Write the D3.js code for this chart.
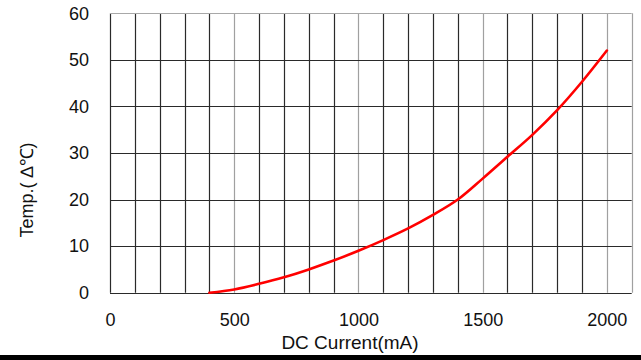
<!DOCTYPE html>
<html>
<head>
<meta charset="utf-8">
<script src="https://cdn.jsdelivr.net/npm/d3@7"></script>
<style>
  html, body { margin: 0; padding: 0; background: #fff; }
  svg { display: block; }
  text { font-family: "Liberation Sans", Arial, sans-serif; fill: #111; }
</style>
</head>
<body>
<svg id="chart" width="641" height="360"></svg>
<script>
// Temperature rise vs. DC drive current
const current = [400, 500, 600, 700, 800, 900, 1000, 1100, 1200, 1300, 1400, 1500, 1600, 1700, 1800, 1900, 2000];
const tempRise = [0, 0.7, 1.9, 3.3, 5.0, 6.9, 9.0, 11.3, 13.8, 16.7, 20.0, 24.5, 29.2, 33.9, 39.2, 45.3, 52.0];
const xTicks = [0, 500, 1000, 1500, 2000];
const yTicks = [0, 10, 20, 30, 40, 50, 60];
const xGrid = d3.range(0, 2101, 100);

const svg = d3.select("#chart");
const W = 641, H = 360;

const x = d3.scaleLinear().domain([0, 2100]).range([110, 631.7]);
const y = d3.scaleLinear().domain([0, 60]).range([292.7, 13.3]);

// vertical grid: every 500 mA is drawn lighter
const g = svg.append("g");
g.selectAll("line.v").data(xGrid).join("line")
  .attr("x1", d => Math.round(x(d)) + 0.5).attr("x2", d => Math.round(x(d)) + 0.5)
  .attr("y1", y(60)).attr("y2", y(0))
  .attr("stroke", d => (d > 0 && d % 500 === 0) || d === 2100 ? "#a0a0a0" : "#2a2a2a")
  .attr("stroke-width", 1.2);

// horizontal grid
g.selectAll("line.h").data(yTicks).join("line")
  .attr("x1", x(0)).attr("x2", x(2100))
  .attr("y1", d => Math.round(y(d)) + 0.5).attr("y2", d => Math.round(y(d)) + 0.5)
  .attr("stroke", d => d === 60 ? "#a8a8a8" : "#2a2a2a")
  .attr("stroke-width", 1.2);

// tick labels via d3 axes (domain and tick marks hidden)
const xAxis = svg.append("g")
  .attr("transform", `translate(0, ${y(0)})`)
  .call(d3.axisBottom(x).tickValues(xTicks).tickFormat(d3.format("d")).tickSize(0).tickPadding(21));
xAxis.select(".domain").remove();
xAxis.selectAll("text").style("font-size", "18px").attr("fill", "#111")
  .style("font-family", "'Liberation Sans', Arial, sans-serif");

const yAxis = svg.append("g")
  .attr("transform", `translate(${x(0)}, 0)`)
  .call(d3.axisLeft(y).tickValues(yTicks).tickFormat(d3.format("d")).tickSize(0).tickPadding(21));
yAxis.select(".domain").remove();
yAxis.selectAll("text").style("font-size", "18px").attr("fill", "#111")
  .style("font-family", "'Liberation Sans', Arial, sans-serif");

// curve
const line = d3.line()
  .x((d, i) => x(current[i]))
  .y(d => y(d))
  .curve(d3.curveCatmullRom.alpha(0.5));
svg.append("path")
  .datum(tempRise)
  .attr("d", line)
  .attr("fill", "none")
  .attr("stroke", "#ff0000")
  .attr("stroke-width", 2.6)
  .attr("stroke-linecap", "round");

// axis titles
svg.append("text")
  .attr("x", (279 + 421) / 2).attr("y", 349)
  .attr("text-anchor", "middle")
  .style("font-size", "19px")
  .text("DC Current(mA)");

svg.append("text")
  .attr("transform", `translate(33, 190) rotate(-90)`)
  .attr("text-anchor", "middle")
  .style("font-size", "18px")
  .text("Temp.( ∆℃)");

// bottom rule
svg.append("rect")
  .attr("x", 0).attr("y", 355).attr("width", W).attr("height", 5)
  .attr("fill", "#000");
</script>
</body>
</html>
